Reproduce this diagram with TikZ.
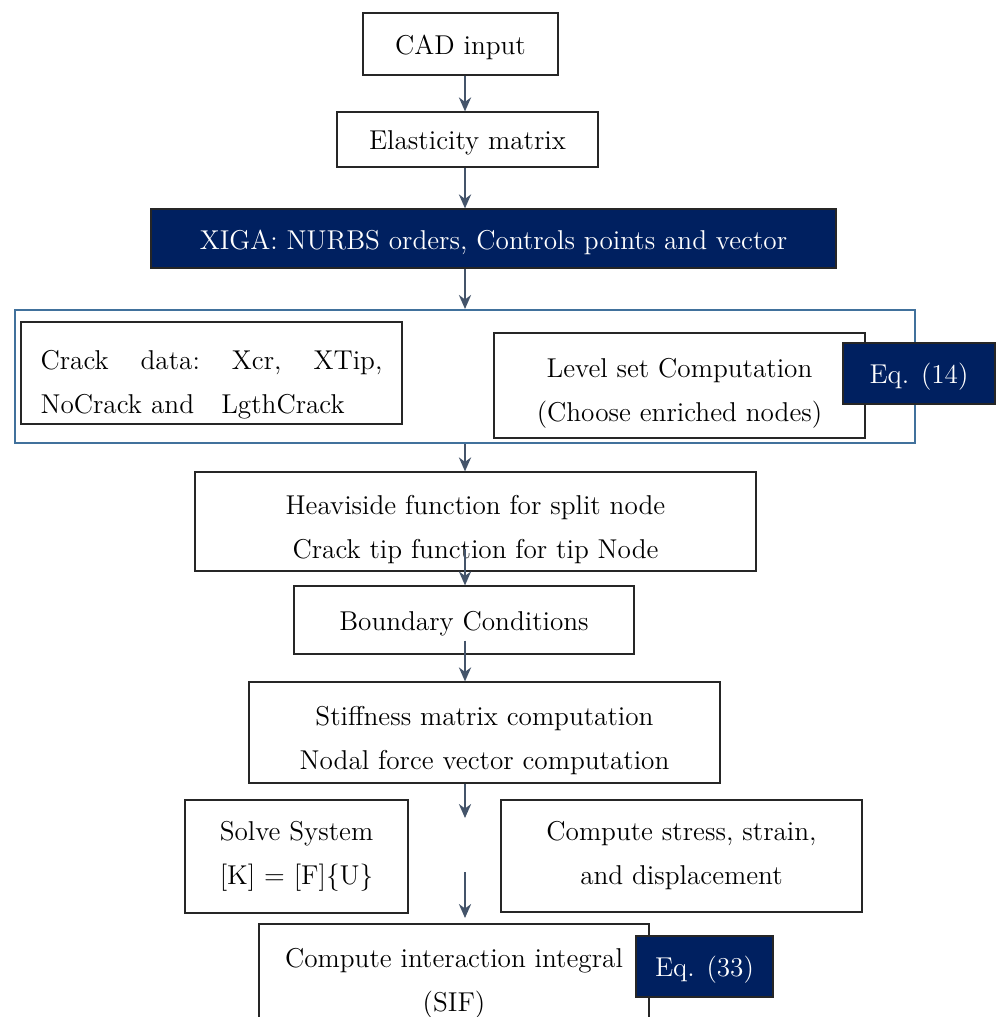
\documentclass[tikz,border=0pt]{standalone}
\usepackage{fontspec}
\usepackage{xcolor}
\usepackage{tikz}
\usetikzlibrary{arrows.meta,positioning,calc}
\newfontfamily\boxfont{lmroman12-regular.otf}
\definecolor{navy}{HTML}{002060}
\definecolor{frameblue}{HTML}{41719C}
\definecolor{arrowgray}{HTML}{44546A}

\begin{document}
\begin{tikzpicture}[x=0.02cm, y=-0.02cm,
  stepbox/.style={draw=black!85, line width=0.7pt, rectangle, align=center,
    inner sep=0pt, font=\boxfont\fontsize{15.5}{25}\selectfont,
    execute at begin node={\rule{0pt}{15pt}}},
  twoline/.style={stepbox, execute at begin node={\rule{0pt}{45pt}}},
  eqbox/.style={stepbox, fill=navy, text=white},
  groupbox/.style={draw=frameblue, line width=1.2pt, rectangle, inner sep=0pt},
  ptr/.style={-{Stealth[length=8pt,width=7pt]}, line width=0.8pt, arrowgray}
]
\useasboundingbox (0,0) rectangle (995,1017);
\coordinate (spine) at (465,0);

\node[stepbox, minimum width=3.9cm, minimum height=1.24cm] (cad) at (460.5,44) {CAD input};
\node[stepbox, minimum width=5.22cm, minimum height=1.1cm] (elast) at (467.5,139.5) {Elasticity matrix};
\node[eqbox, minimum width=13.7cm, minimum height=1.18cm] (xiga) at (493.5,238.5) {XIGA: NURBS orders, Controls points and vector};

\node[groupbox, minimum width=18cm, minimum height=2.66cm] (frame) at (465,376.5) {};
\node[stepbox, align=left, text width=6.84cm, inner xsep=0.39cm, minimum height=2.04cm,
  execute at begin node={\rule{0pt}{24pt}}] (crack) at (211.5,373)
  {Crack\hfill data:\hfill Xcr,\hfill XTip,\\NoCrack and\quad LgthCrack};
\node[twoline, minimum width=7.42cm, minimum height=2.1cm] (level) at (679.5,385.5) {Level set Computation\\(Choose enriched nodes)};
\node[eqbox, minimum width=3.04cm, minimum height=1.22cm] (eq14) at (919,373.5) {Eq. (14)};

\node[twoline, minimum width=11.22cm, minimum height=1.98cm] (heavi) at (475.5,521.5) {Heaviside function for split node\\Crack tip function for tip Node};
\node[stepbox, minimum width=6.8cm, minimum height=1.36cm] (bound) at (464,620) {Boundary Conditions};
\node[twoline, minimum width=9.42cm, minimum height=2.02cm] (stiff) at (484.5,732.5) {Stiffness matrix computation\\Nodal force vector computation};
\node[stepbox, minimum width=4.46cm, minimum height=2.26cm] (solve) at (296.5,856.5) {Solve System\\{[K]} = [F]\{U\}};
\node[stepbox, minimum width=7.22cm, minimum height=2.24cm] (stress) at (681.5,856) {Compute stress, strain,\\and displacement};
\node[twoline, minimum width=7.8cm, minimum height=2.04cm] (inter) at (454,975) {Compute interaction integral\\(SIF)};
\node[eqbox, minimum width=2.74cm, minimum height=1.22cm] (eq33) at (704.5,966.5) {Eq. (33)};

\coordinate (gapA) at (465,818);
\coordinate (gapB) at (465,872);
\coordinate (gapC) at (465,918);

\draw[ptr] (cad.south -| spine) -- (elast.north -| spine);
\draw[ptr] (elast.south -| spine) -- (xiga.north -| spine);
\draw[ptr] (xiga.south -| spine) -- (frame.north -| spine);
\draw[ptr] (frame.south -| spine) -- (heavi.north -| spine);
\draw[ptr] ($(heavi.south -| spine)+(0,-23)$) -- (bound.north -| spine);
\draw[ptr] ($(bound.south -| spine)+(0,-14)$) -- (stiff.north -| spine);
\draw[ptr] (stiff.south -| spine) -- (gapA);
\draw[ptr] (gapB) -- (gapC);
\end{tikzpicture}
\end{document}
